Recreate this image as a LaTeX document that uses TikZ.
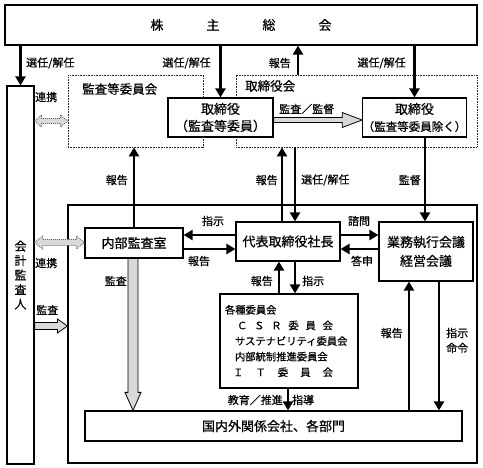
\documentclass[tikz,border=0pt]{standalone}
\usepackage{fontspec}
\setmainfont{Noto Sans CJK JP}[FakeBold=0.6]
\usetikzlibrary{arrows.meta,calc}
\definecolor{blkgray}{HTML}{D9D9D9}
% block arrow to the right: start, end, shaft half, head half, head length, style
\newcommand\barR[6]{\draw[#6] let \p1=(#1), \p2=(#2) in
 ({\x1},{\y1+#3}) -- ({\x2-#5},{\y1+#3}) -- ({\x2-#5},{\y1+#4}) -- ({\x2},{\y1}) -- ({\x2-#5},{\y1-#4}) -- ({\x2-#5},{\y1-#3}) -- ({\x1},{\y1-#3}) -- cycle;}
% block arrow downwards
\newcommand\barD[6]{\draw[#6] let \p1=(#1), \p2=(#2) in
 ({\x1-#3},{\y1}) -- ({\x1-#3},{\y2+#5}) -- ({\x1-#4},{\y2+#5}) -- ({\x1},{\y2}) -- ({\x1+#4},{\y2+#5}) -- ({\x1+#3},{\y2+#5}) -- ({\x1+#3},{\y1}) -- cycle;}
% double-headed block arrow left-right
\newcommand\barLR[6]{\draw[#6] let \p1=(#1), \p2=(#2) in
 ({\x1},{\y1}) -- ({\x1+#5},{\y1+#4}) -- ({\x1+#5},{\y1+#3}) -- ({\x2-#5},{\y1+#3}) -- ({\x2-#5},{\y1+#4}) -- ({\x2},{\y1}) -- ({\x2-#5},{\y1-#4}) -- ({\x2-#5},{\y1-#3}) -- ({\x1+#5},{\y1-#3}) -- ({\x1+#5},{\y1-#4}) -- cycle;}
\tikzset{
  box/.style={draw, fill=white, line width=1.2pt, inner sep=0pt, align=center, font=\fontsize{13}{17}\selectfont},
  dbox/.style={draw=black!85, line width=0.8pt, dash pattern=on 0.8pt off 0.8pt},
  arr/.style={line width=2.5pt, -{Triangle[width=10pt,length=9pt]}},
  lbl/.style={font=\fontsize{11}{13}\selectfont, inner sep=0pt},
  blk/.style={draw, line width=0.8pt, fill=blkgray},
  dblk/.style={draw=black!60, line width=0.8pt, dash pattern=on 1pt off 1pt, fill=blkgray}
}
\begin{document}
\begin{tikzpicture}[x=1pt,y=-1pt]
\useasboundingbox (0,0) rectangle (483,468);
% frames
\node[dbox, minimum width=135pt, minimum height=72pt] (kansa) at (135.5,111) {};
\node[dbox, minimum width=241pt, minimum height=72pt] (torikai) at (356.5,111) {};
\node[draw, line width=1.2pt, minimum width=409pt, minimum height=258pt] (outer) at (272.5,334) {};
% boxes
\node[box, minimum width=472pt, minimum height=40pt] (sh) at (241,25)
  {\makebox[181pt][s]{株\hfill 主\hfill 総\hfill 会}};
\node[box, minimum width=27pt, minimum height=378pt, font=\fontsize{12}{14.5}\selectfont] (kaikei) at (20.5,275) {会\\計\\監\\査\\人};
\node[box, minimum width=105pt, minimum height=39pt] (tk1) at (220.5,117.5) {取締役\\（監査等委員）};
\node[box, minimum width=103pt, minimum height=39pt] (tk2) at (414.5,117.5) {取締役\\{\fontsize{11.5}{13}\selectfont （監査等委員除く）}};
\node[box, minimum width=98pt, minimum height=30pt] (naibu) at (134,243) {内部監査室};
\node[box, minimum width=104pt, minimum height=39pt] (daihyo) at (288,241.5) {代表取締役社長};
\node[box, minimum width=94pt, minimum height=59pt, font=\fontsize{13}{19}\selectfont] (gyomu) at (426,251.5) {業務執行会議\\経営会議};
\node[box, minimum width=138pt, minimum height=94pt, align=left, text width=128pt, inner xsep=5pt, font=\fontsize{10.3}{15.6}\selectfont] (kakushu) at (289,341)
  {各種委員会\\
   \hspace*{12pt}\makebox[96pt][s]{Ｃ\hfill Ｓ\hfill Ｒ\hfill 委\hfill 員\hfill 会}\\
   \hspace*{10pt}サステナビリティ委員会\\
   \hspace*{10pt}内部統制推進委員会\\
   \hspace*{8pt}\makebox[100pt][s]{Ｉ\hfill Ｔ\hfill 委\hfill 員\hfill 会}};
\node[box, minimum width=377pt, minimum height=30pt] (kokunai) at (273.5,426) {国内外関係会社、各部門};
% frame labels
\node[lbl, anchor=west, font=\fontsize{12.5}{14}\selectfont] (lkansa) at (82,89) {監査等委員会};
\node[lbl, anchor=west, font=\fontsize{12.5}{14}\selectfont] (ltorikai) at (245,86) {取締役会};
% helper coordinates
\coordinate (xA) at (298,0);
\coordinate (xB) at (425,0);
\coordinate (xC) at (282,0);
\coordinate (xD) at (295,0);
\coordinate (xE) at (279,0);
\coordinate (xF) at (288,0);
\coordinate (xG) at (409,0);
\coordinate (xH) at (439,0);
\coordinate (xI) at (133,0);
\coordinate (yA) at (0,120);
\coordinate (yB) at (0,121);
\coordinate (yC) at (0,235);
\coordinate (yD) at (0,249);
\coordinate (yE) at (0,242.5);
\coordinate (yF) at (0,326);
% arrows
\draw[arr] (sh.south -| kaikei.north) -- (kaikei.north);
\draw[arr] (sh.south -| tk1.north) -- (tk1.north);
\draw[arr] (torikai.north -| xA) -- (sh.south -| xA);
\draw[arr] (sh.south -| tk2.north) -- (tk2.north);
\draw[arr] (naibu.north) -- (naibu.north |- kansa.south);
\draw[arr] (daihyo.north -| xC) -- (torikai.south -| xC);
\draw[arr] (torikai.south -| xD) -- (daihyo.north -| xD);
\draw[arr] (tk2.south -| xB) -- (gyomu.north -| xB);
\draw[arr] (daihyo.west |- yC) -- (naibu.east |- yC);
\draw[arr] (naibu.east |- yD) -- (daihyo.west |- yD);
\draw[arr] (daihyo.east |- yC) -- (gyomu.west |- yC);
\draw[arr] (gyomu.west |- yD) -- (daihyo.east |- yD);
\draw[arr] (kakushu.north -| xE) -- (daihyo.south -| xE);
\draw[arr] (daihyo.south -| xD) -- (kakushu.north -| xD);
\draw[arr] (kakushu.south -| xF) -- (kokunai.north -| xF);
\draw[arr] (kokunai.north -| xG) -- (gyomu.south -| xG);
\draw[arr] (gyomu.south -| xH) -- (kokunai.north -| xH);
% block arrows
\barR{tk1.east |- yA}{tk2.west |- yA}{2.5pt}{7.5pt}{20pt}{blk}
\barR{kaikei.east |- yF}{outer.west |- yF}{3.5pt}{7pt}{10pt}{blk}
\barD{naibu.south -| xI}{kokunai.north -| xI}{5pt}{8pt}{18pt}{blk}
\barLR{kaikei.east |- yB}{kansa.west |- yB}{2.5pt}{6pt}{7pt}{dblk}
\barLR{kaikei.east |- yE}{naibu.west |- yE}{3pt}{6.5pt}{8pt}{dblk}
% labels
\node[lbl, anchor=west] (l1) at (26,63) {選任/解任};
\node[lbl, anchor=east] (l2) at (211,63) {選任/解任};
\node[lbl, anchor=east] (l3) at (291,63) {報告};
\node[lbl, anchor=east] (l4) at (406,63) {選任/解任};
\node[lbl, anchor=west] (l5) at (35,97) {連携};
\node[lbl, anchor=west] (l6) at (279,109) {監査／監督};
\node[lbl, anchor=east] (l7) at (128,180) {報告};
\node[lbl, anchor=east] (l8) at (278,180) {報告};
\node[lbl, anchor=west] (l9) at (301,180) {選任/解任};
\node[lbl, anchor=east] (l10) at (421,180) {監督};
\node[lbl] (l11) at (213,221) {指示};
\node[lbl] (l12) at (199,261) {報告};
\node[lbl] (l13) at (359,221) {諮問};
\node[lbl] (l14) at (362,261) {答申};
\node[lbl, anchor=east] (l15) at (273,281) {報告};
\node[lbl, anchor=west] (l16) at (302,281) {指示};
\node[lbl, anchor=west] (l17) at (35,263) {連携};
\node[lbl, anchor=east] (l18) at (127,281) {監査};
\node[lbl, anchor=west] (l19) at (36,310) {監査};
\node[lbl, anchor=east] (l20) at (283,400) {教育／推進};
\node[lbl, anchor=west] (l21) at (292,400) {指導};
\node[lbl, anchor=east] (l22) at (403,333) {報告};
\node[lbl, anchor=west] (l23) at (446,333) {指示};
\node[lbl, anchor=west] (l24) at (446,348) {命令};
\end{tikzpicture}
\end{document}
